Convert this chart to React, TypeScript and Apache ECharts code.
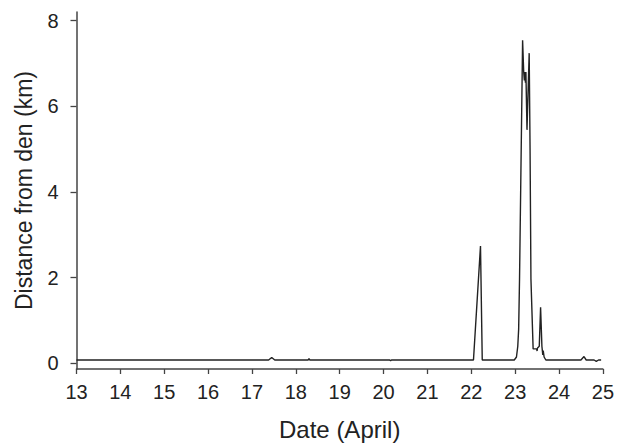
import React, { useEffect, useRef } from "react";
import * as echarts from "echarts";

const days = [
  13.0, 17.38, 17.45, 17.52, 18.28, 18.3, 18.32, 20.14, 20.16, 20.18,
  22.05, 22.21, 22.25, 22.98, 23.03, 23.06, 23.08, 23.1, 23.17, 23.195,
  23.21, 23.22, 23.235, 23.245, 23.27, 23.32, 23.34, 23.36, 23.41, 23.49,
  23.5, 23.51, 23.55, 23.58, 23.61, 23.63, 23.64, 23.66, 23.7, 24.5,
  24.57, 24.62, 24.8, 24.85, 24.9, 24.96,
];
const distances = [
  0.08, 0.08, 0.14, 0.08, 0.08, 0.11, 0.08, 0.08, 0.06, 0.08,
  0.08, 2.74, 0.08, 0.08, 0.15, 0.4, 0.8, 1.97, 7.54, 6.8,
  6.6, 6.8, 6.55, 6.8, 5.45, 7.24, 5.0, 1.97, 0.34, 0.34,
  0.29, 0.36, 0.4, 1.31, 0.4, 0.2, 0.3, 0.15, 0.08, 0.08,
  0.16, 0.08, 0.08, 0.05, 0.08, 0.08,
];
const yTicks = [0, 2, 4, 6, 8];

export default function App() {
  const ref = useRef<HTMLDivElement>(null);
  useEffect(() => {
    if (!ref.current) return;
    const chart = echarts.init(ref.current, null, { renderer: "svg" });
    const font = "'Liberation Sans', Arial, Helvetica, sans-serif";
    chart.setOption({
      animation: false,
      backgroundColor: "#ffffff",
      grid: { left: 76.5, right: 12, top: 12, bottom: 76 },
      xAxis: {
        type: "value",
        min: 13,
        max: 25,
        interval: 1,
        name: "Date (April)",
        nameLocation: "middle",
        nameGap: 48,
        nameTextStyle: { fontSize: 24, color: "#222", fontFamily: font },
        axisLine: { show: true, onZero: false, lineStyle: { color: "#444", width: 1.5 } },
        axisTick: { show: true, length: 5, lineStyle: { color: "#444", width: 1.3 } },
        axisLabel: { fontSize: 20, color: "#222", fontFamily: font, margin: 13 },
        splitLine: { show: false },
      },
      yAxis: {
        type: "value",
        min: -0.13,
        max: 8.2,
        name: "Distance from den (km)",
        nameLocation: "middle",
        nameGap: 41,
        nameTextStyle: { fontSize: 23, color: "#222", fontFamily: font },
        axisLine: { show: true, lineStyle: { color: "#444", width: 1.5 } },
        axisTick: {
          show: true,
          length: 6,
          customValues: yTicks,
          lineStyle: { color: "#444", width: 1.3 },
        },
        axisLabel: {
          fontSize: 20,
          color: "#222",
          fontFamily: font,
          margin: 18,
          customValues: yTicks,
        },
        splitLine: { show: false },
      },
      series: [
        {
          type: "line",
          data: days.map((d, i) => [d, distances[i]]),
          showSymbol: false,
          lineStyle: { color: "#222", width: 1.4 },
          z: 3,
        },
      ],
    });
    return () => chart.dispose();
  }, []);
  return (
    <div
      ref={ref}
      style={{ position: "fixed", left: 0, top: 0, width: 617, height: 446 }}
    />
  );
}
